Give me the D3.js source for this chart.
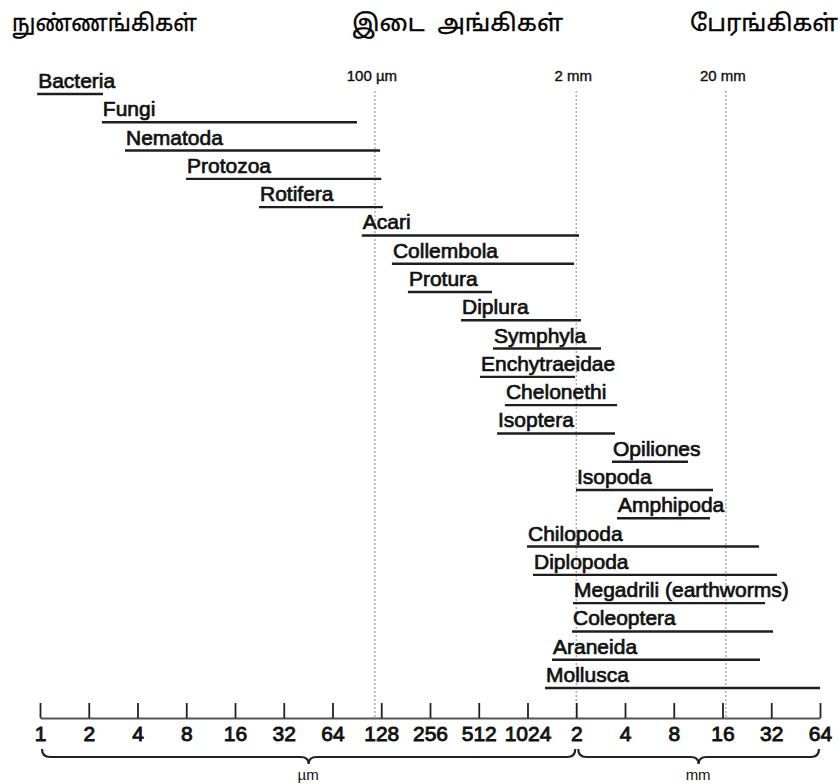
<!DOCTYPE html>
<html>
<head>
<meta charset="utf-8">
<script src="https://cdn.jsdelivr.net/npm/d3@7"></script>
<style>
  html, body { margin: 0; padding: 0; background: #fff; }
  svg { display: block; }
</style>
</head>
<body>
<svg id="chart" width="840" height="784"></svg>
<script>
// ---- data (sizes in µm) ----
const groupHeaders = ["நுண்ணங்கிகள்", "இடை  அங்கிகள்", "பேரங்கிகள்"];
const taxa = ["Bacteria", "Fungi", "Nematoda", "Protozoa", "Rotifera", "Acari", "Collembola",
  "Protura", "Diplura", "Symphyla", "Enchytraeidae", "Chelonethi", "Isoptera", "Opiliones",
  "Isopoda", "Amphipoda", "Chilopoda", "Diplopoda", "Megadrili (earthworms)", "Coleoptera",
  "Araneida", "Mollusca"];
const sizeMin = [0.96, 2.41, 3.35, 7.97, 22.5, 97, 149, 187, 398, 627, 521, 743, 664, 3404,
  2041, 3656, 1017, 1107, 1955, 1928, 1451, 1313];
const sizeMax = [2.45, 90.7, 126, 128, 131, 2130, 1984, 618, 2191, 2912, 2012, 3656, 3553, 10030,
  14310, 13720, 27530, 35560, 29990, 33600, 27910, 65536];
const tickValues = [1, 2, 4, 8, 16, 32, 64, 128, 256, 512, 1024, 2048, 4096, 8192, 16384, 32768, 65536];
const refLabels = ["100 µm", "2 mm", "20 mm"];
const refValues = [117, 2048, 17200];
const unitLabels = ["µm", "mm"];
const unitRanges = [[1, 2048], [2048, 65536]];

// ---- layout ----
const svg = d3.select("#chart");
const x = d3.scaleLog().base(2).domain([1, 65536]).range([40, 820]);
const y = d3.scalePoint().domain(taxa).range([94, 688]);
const axisY = 718;
const font = "'Liberation Sans', Arial, Helvetica, sans-serif";

// headers
const headerX = [12, 352, 690];
const headerW = [185, 211, 148];
svg.selectAll("text.hdr").data(groupHeaders).join("text")
  .attr("class", "hdr")
  .attr("x", (d, i) => headerX[i])
  .attr("y", 31)
  .attr("font-family", "'Noto Sans Tamil', 'Lohit Tamil', 'Latha', 'Noto Sans', sans-serif")
  .attr("font-size", 23)
  .attr("fill", "#000")
  .attr("stroke", "#000").attr("stroke-width", 0.3)
  .style("white-space", "pre")
  .attr("textLength", (d, i) => headerW[i])
  .attr("lengthAdjust", "spacingAndGlyphs")
  .text(d => d);

// reference dotted lines
svg.selectAll("line.ref").data(refValues).join("line")
  .attr("class", "ref")
  .attr("x1", d => x(d)).attr("x2", d => x(d))
  .attr("y1", 91).attr("y2", axisY)
  .attr("stroke", "#9a9a9a").attr("stroke-width", 1.2)
  .attr("stroke-dasharray", "2,2");
svg.selectAll("text.ref").data(refValues).join("text")
  .attr("class", "ref")
  .attr("x", d => x(d) - 3)
  .attr("y", 81)
  .attr("text-anchor", "middle")
  .attr("font-family", font)
  .attr("font-size", 15)
  .attr("fill", "#111")
  .attr("stroke", "#111").attr("stroke-width", 0.4)
  .text((d, i) => refLabels[i]);

// bars
const rows = taxa.map((t, i) => ({ name: t, lo: sizeMin[i], hi: sizeMax[i] }));
svg.selectAll("line.bar").data(rows).join("line")
  .attr("class", "bar")
  .attr("x1", d => x(d.lo)).attr("x2", d => x(d.hi))
  .attr("y1", d => y(d.name)).attr("y2", d => y(d.name))
  .attr("stroke", "#1e1e1e").attr("stroke-width", 2.4);
svg.selectAll("text.bar").data(rows).join("text")
  .attr("class", "bar")
  .attr("x", d => x(d.lo) + 1)
  .attr("y", d => y(d.name) - 6)
  .attr("font-family", font)
  .attr("font-size", 21)
  .attr("fill", "#111")
  .attr("stroke", "#111").attr("stroke-width", 0.7)
  .text(d => d.name);

// axis
const axis = d3.axisBottom(x)
  .tickValues(tickValues)
  .tickSizeInner(-15)
  .tickSizeOuter(0)
  .tickPadding(8)
  .tickFormat(d => d >= 2048 ? String(d / 1024) : String(d));
const gAxis = svg.append("g").attr("transform", `translate(0,${axisY})`).call(axis);
gAxis.select(".domain").attr("stroke", "#555").attr("stroke-width", 2);
gAxis.selectAll(".tick line").attr("stroke", "#222").attr("stroke-width", 1.8);
gAxis.selectAll(".tick text")
  .attr("font-family", font)
  .attr("font-size", 21)
  .attr("fill", "#111")
  .attr("stroke", "#111").attr("stroke-width", 0.9);

// braces
function brace(x0, x1) {
  const y0 = 749, ym = 757, tip = 764, r = 8;
  const m = (x0 + x1) / 2;
  return `M${x0},${y0} Q${x0},${ym} ${x0 + r},${ym} L${m - r},${ym} Q${m},${ym} ${m},${tip}` +
         ` Q${m},${ym} ${m + r},${ym} L${x1 - r},${ym} Q${x1},${ym} ${x1},${y0}`;
}
svg.selectAll("path.brace").data(unitRanges).join("path")
  .attr("class", "brace")
  .attr("d", d => brace(x(d[0]) + 2, x(d[1]) - 1))
  .attr("fill", "none")
  .attr("stroke", "#222").attr("stroke-width", 2.2);
svg.selectAll("text.unit").data(unitRanges).join("text")
  .attr("class", "unit")
  .attr("x", d => (x(d[0]) + x(d[1])) / 2)
  .attr("y", 780)
  .attr("text-anchor", "middle")
  .attr("font-family", font)
  .attr("font-size", 15)
  .attr("fill", "#111")
  .text((d, i) => unitLabels[i]);
</script>
</body>
</html>
